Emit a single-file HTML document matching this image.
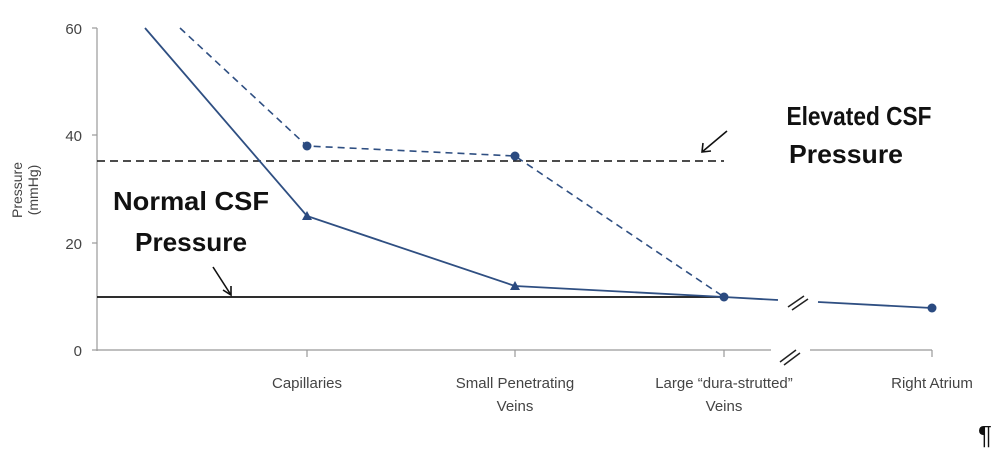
<!DOCTYPE html>
<html><head><style>body{margin:0;background:#fff}svg{display:block}text{font-family:"Liberation Sans",sans-serif}</style></head><body>
<svg width="1000" height="454" viewBox="0 0 1000 454" xmlns="http://www.w3.org/2000/svg">
<g stroke="#999" stroke-width="1.2" fill="none">
<line x1="97" y1="28" x2="97" y2="351"/>
<line x1="92" y1="28" x2="97" y2="28"/><line x1="92" y1="135" x2="97" y2="135"/><line x1="92" y1="243" x2="97" y2="243"/><line x1="92" y1="350" x2="97" y2="350"/>
<line x1="97" y1="350" x2="771" y2="350"/><line x1="810" y1="350" x2="932" y2="350"/>
<line x1="307" y1="350" x2="307" y2="357"/><line x1="515" y1="350" x2="515" y2="357"/><line x1="724" y1="350" x2="724" y2="357"/><line x1="932" y1="350" x2="932" y2="357"/>
</g>
<g stroke="#222" stroke-width="1.5"><line x1="780" y1="362" x2="796" y2="350"/><line x1="784" y1="365" x2="800" y2="353"/>
<line x1="788" y1="307" x2="804" y2="296"/><line x1="792" y1="310" x2="808" y2="299"/></g>
<g font-size="15" fill="#444" text-anchor="end"><text x="82" y="34">60</text><text x="82" y="141">40</text><text x="82" y="249">20</text><text x="82" y="356">0</text></g>
<text transform="translate(22,190) rotate(-90)" font-size="14" fill="#444" text-anchor="middle">Pressure</text>
<text transform="translate(38,190) rotate(-90)" font-size="14" fill="#444" text-anchor="middle">(mmHg)</text>
<g font-size="15" fill="#444" text-anchor="middle"><text x="307" y="388">Capillaries</text><text x="515" y="388">Small Penetrating</text><text x="515" y="411">Veins</text><text x="724" y="388">Large “dura-strutted”</text><text x="724" y="411">Veins</text><text x="932" y="388">Right Atrium</text></g>
<line x1="97" y1="161" x2="724" y2="161" stroke="#111" stroke-width="1.6" stroke-dasharray="8,5"/>
<line x1="97" y1="297" x2="724" y2="297" stroke="#111" stroke-width="1.8"/>
<polyline points="180,28 307,146 515,156 724,297" fill="none" stroke="#2f4f82" stroke-width="1.6" stroke-dasharray="7,5"/>
<polyline points="145,28 307,216 515,286 724,297 778,300" fill="none" stroke="#2f4f82" stroke-width="1.8"/>
<line x1="818" y1="302" x2="932" y2="308" stroke="#2f4f82" stroke-width="1.8"/>
<g fill="#2a4a80"><circle cx="307" cy="146" r="4.5"/><circle cx="515" cy="156" r="4.5"/><circle cx="724" cy="297" r="4.5"/><circle cx="932" cy="308" r="4.5"/>
<polygon points="307,211 302,220 312,220"/><polygon points="515,281 510,290 520,290"/></g>
<g font-size="26" font-weight="bold" fill="#111" text-anchor="middle"><text x="191" y="210" textLength="156" lengthAdjust="spacingAndGlyphs">Normal CSF</text><text x="191" y="251" textLength="112" lengthAdjust="spacingAndGlyphs">Pressure</text><text x="859" y="125" textLength="145" lengthAdjust="spacingAndGlyphs">Elevated CSF</text><text x="846" y="163" textLength="114" lengthAdjust="spacingAndGlyphs">Pressure</text></g>
<g stroke="#111" stroke-width="1.6" fill="none"><line x1="213" y1="267" x2="231" y2="295"/><polyline points="223,290 231,295 231,286"/>
<line x1="727" y1="131" x2="702" y2="152"/><polyline points="703,143 702,152 711,151"/></g>
<text x="985" y="444" font-size="26" fill="#111" text-anchor="middle">¶</text>
</svg>
</body></html>
